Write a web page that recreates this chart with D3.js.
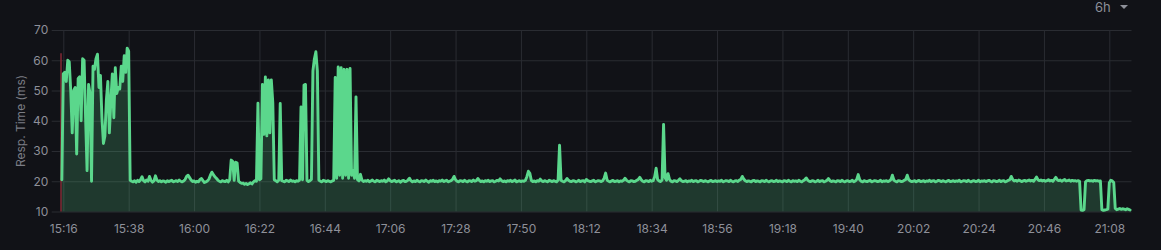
<!DOCTYPE html>
<html><head><meta charset="utf-8">
<script src="https://cdn.jsdelivr.net/npm/d3@7"></script>
<style>html,body{margin:0;padding:0;background:#111217;overflow:hidden}</style>
</head><body><svg id="c" width="1161" height="250"></svg>
<script>
// ---- data ----
const seriesStart = "15:15:30";
const sampleSeconds = 30;
const respTime = [
20.5,55.5,56,53,60,59.5,50,36,50,51,
29,54,54.5,40,60.5,60,41,23.5,52,49,
20,58,57,60.5,62,51,55,41,32.5,35,
47,53,36,46.5,55.5,41,57.5,49,51,50.5,
58,53,61.5,56,64,63,20.3,20.0,19.8,20.2,
19.7,20.3,19.9,20.5,21.5,20.2,19.8,20.4,20.0,21.6,
20.3,19.7,20.1,21.8,20.4,19.9,20.2,19.8,20.1,20.0,
19.7,20.2,19.9,20.1,20.3,19.8,20.0,20.2,19.9,20.4,
20.0,19.8,20.1,20.6,21.6,22.0,21.2,20.4,19.9,20.1,
19.7,20.0,19.8,20.6,20.9,20.2,19.6,19.8,20.1,20.7,
22.0,23.0,22.2,21.5,21.0,20.4,20.0,19.8,20.2,20.0,
19.9,20.3,19.8,20.5,27.0,26.6,20.3,26.3,26.0,20.0,
19.6,19.3,19.4,19.0,19.3,18.9,19.2,19.5,19.1,19.8,
20.2,20.0,45.8,20.5,20.8,52,35.5,54.5,35.0,53.5,
36,53.5,46,20.5,20.2,19.8,20.3,45.7,20.2,20.0,
19.8,20.3,20.1,19.9,20.4,20.0,20.1,19.8,20.2,20.0,
20.4,44.6,20.5,51.8,52,20.3,19.9,20.2,20.6,56.5,
60.5,62.8,56.5,20.4,20.0,19.8,20.3,20.1,19.9,20.2,
20.0,19.8,20.1,20.3,54.3,21,57.8,22,57.5,21,
57,22,57,21,57.3,22,23.6,21,47.9,20.5,
20.1,22.3,20.4,19.9,20.2,20.0,20.3,19.8,20.1,20.4,
20.0,19.8,20.3,20.1,19.9,20.2,20.0,20.4,19.8,20.1,
20.8,20.2,19.9,20.1,20.3,19.8,20.0,20.2,19.7,20.1,
20.3,19.9,20.0,20.4,21.0,20.2,19.8,20.1,19.9,20.3,
20.0,19.8,20.2,20.1,19.9,20.4,20.0,19.7,20.2,20.0,
20.3,19.9,20.1,19.8,20.2,20.0,20.4,19.9,20.1,20.3,
19.8,20.0,20.2,20.6,21.6,20.5,20.0,19.8,20.2,20.1,
19.9,20.3,20.0,19.8,20.2,20.1,19.9,20.4,20.0,20.2,
20.9,20.3,19.9,20.1,19.8,20.2,20.0,20.3,19.9,20.1,
20.2,19.8,20.0,20.3,20.1,20.8,20.2,19.9,20.1,19.8,
20.2,20.0,20.3,19.9,20.1,20.4,19.8,20.0,20.2,19.9,
20.1,20.0,20.3,21.5,23.3,22.6,20.3,19.9,20.1,19.8,
20.2,20.0,20.7,20.1,19.9,20.2,20.0,19.8,20.3,20.1,
19.9,20.2,20.0,19.8,20.4,31.9,20.3,20.0,19.8,20.2,
20.9,20.3,20.0,19.9,20.2,20.1,19.8,20.0,20.3,19.9,
20.1,20.2,19.8,20.6,20.2,20.0,19.9,20.1,20.3,19.8,
20.0,20.2,20.1,19.9,20.2,21.0,22.7,20.4,20.0,19.8,
20.1,20.3,19.9,20.0,20.2,19.8,20.1,20.0,20.3,21.0,
20.4,20.0,19.8,20.2,20.1,19.9,20.0,20.3,20.6,21.3,
20.5,20.0,19.8,20.2,20.1,19.9,20.3,20.0,20.2,21.5,
24.3,20.6,20.1,19.9,20.4,38.8,21.2,20.3,22.5,20.6,
20.0,19.8,20.2,20.1,19.9,20.3,20.8,20.2,19.9,20.0,
20.2,19.8,20.1,20.0,20.3,19.9,20.1,20.2,19.8,20.0,
20.3,20.1,19.9,20.2,20.0,19.8,20.1,20.3,19.9,20.0,
20.2,19.9,20.1,20.0,20.3,19.8,20.0,20.2,20.1,19.9,
20.3,20.0,19.8,20.1,20.2,19.9,20.4,20.6,21.6,20.7,
20.2,19.9,20.1,20.0,19.8,20.2,20.3,19.9,20.1,20.0,
19.8,20.2,20.1,19.9,20.3,20.0,19.8,20.1,20.2,19.9,
20.0,20.3,19.9,20.1,20.0,19.8,20.2,20.1,19.9,20.3,
20.0,19.8,20.2,20.0,20.1,19.9,20.3,20.0,19.8,20.2,
20.5,21.1,20.4,20.0,19.9,20.2,20.1,19.8,20.0,20.3,
19.9,20.1,20.2,19.8,20.0,20.3,20.9,20.2,19.9,20.1,
20.0,19.8,20.2,20.1,19.9,20.3,20.0,19.8,20.1,20.2,
19.9,20.0,20.3,19.8,20.1,20.6,22.2,20.5,20.0,19.8,
20.2,20.0,19.9,20.1,20.3,19.8,20.0,20.2,20.1,19.9,
20.0,20.3,19.8,20.1,20.0,20.2,19.9,20.1,20.5,22.0,
20.4,20.0,19.8,20.2,20.1,19.9,20.0,20.3,20.6,22.0,
20.5,20.1,19.9,20.0,20.2,19.8,20.1,20.3,19.9,20.0,
20.2,19.8,20.1,20.0,20.3,19.9,20.1,20.2,19.8,20.0,
20.3,20.1,19.9,20.2,20.0,19.8,20.1,20.3,19.9,20.0,
20.2,19.9,20.1,20.0,20.3,19.8,20.0,20.2,20.1,19.9,
20.3,20.0,19.8,20.1,20.2,19.9,20.0,20.3,19.8,20.1,
20.0,20.2,19.9,20.1,20.3,20.0,19.8,20.2,20.1,19.9,
20.0,20.3,19.9,20.1,20.2,19.8,20.0,20.3,20.5,21.6,
20.6,20.1,20.3,20.0,20.4,20.2,19.9,20.1,20.3,20.0,
20.2,20.4,20.1,20.3,20.0,20.6,21.4,20.5,20.2,20.4,
20.1,20.3,20.0,20.2,20.5,20.1,20.3,20.0,20.6,21.3,
20.5,20.2,20.4,20.0,20.3,20.6,20.1,20.2,20.4,20.0,
20.3,20.1,20.2,20.0,20.2,20.0,10.5,10.4,10.6,19.8,
20.2,20.3,20.1,20.2,20.0,20.3,20.1,20.2,20.0,20.1,
10.6,10.4,10.5,10.6,10.8,19.5,20.3,20.1,19.6,11.0,
10.6,10.8,11.0,10.7,10.9,10.8,10.6,10.9,10.7,10.5
];
const xTickLabels = ["15:16","15:38","16:00","16:22","16:44","17:06","17:28","17:50","18:12","18:34","18:56","19:18","19:40","20:02","20:24","20:46","21:08"];
const yTickValues = [10,20,30,40,50,60,70];
const annotationTimes = ["15:15:30"];
const yAxisTitle = "Resp. Time (ms)";
const rangeLabel = "6h";

// ---- drawing ----
const parse = s => { const p = s.split(":").map(Number); return new Date(2024,0,1,p[0],p[1],p[2]||0); };
const t0 = parse(seriesStart);
const data = respTime.map((v,i)=>({t:new Date(+t0 + i*sampleSeconds*1000), v}));

const svg = d3.select("#c");
const plotL = 51.7, plotR = 1131.5, plotT = 30, plotB = 211.5;
const x = d3.scaleTime().domain([parse(xTickLabels[0]), parse(xTickLabels[xTickLabels.length-1])]).range([63.3,1109.3]);
const y = d3.scaleLinear().domain([10,70]).range([plotB, plotT]);

const gridColor = "#2a2c32", textColor = "#8e9099", lineColor = "#5bd78c";
const font = "Inter, 'Noto Sans', sans-serif";

svg.append("rect").attr("width",1161).attr("height",250).attr("fill","#111217");

// y axis with gridlines
const yAxis = svg.append("g").attr("transform",`translate(${plotL},0)`)
  .call(d3.axisLeft(y).tickValues(yTickValues).tickSize(-(plotR-plotL)).tickPadding(3.4));
yAxis.select(".domain").remove();
yAxis.selectAll("line").attr("stroke",gridColor).attr("stroke-width",1);
yAxis.selectAll("text").attr("fill",textColor).attr("font-family",font).attr("font-size",12)
  .attr("dy",null).attr("y",3.8);

// x axis with gridlines
const xTicks = xTickLabels.map(parse);
const xAxis = svg.append("g").attr("transform",`translate(0,${plotB})`)
  .call(d3.axisBottom(x).tickValues(xTicks).tickFormat(d3.timeFormat("%H:%M")).tickSize(-(plotB-plotT)));
xAxis.select(".domain").remove();
xAxis.selectAll("line").attr("stroke",gridColor).attr("stroke-width",1);
xAxis.selectAll("text").attr("fill",textColor).attr("font-family",font).attr("font-size",12)
  .attr("dy",null).attr("y",21.5);

// annotation marker
svg.append("g").selectAll("line").data(annotationTimes.map(parse)).join("line")
  .attr("x1",d=>x(d)-0.8).attr("x2",d=>x(d)-0.8)
  .attr("y1",y(62.3)).attr("y2",plotB)
  .attr("stroke","#7d2833").attr("stroke-width",1.6);

// area + line
const area = d3.area().x(d=>x(d.t)).y0(y(10)).y1(d=>y(d.v));
const line = d3.line().x(d=>x(d.t)).y(d=>y(d.v));
svg.append("path").datum(data).attr("d",area).attr("fill",lineColor).attr("fill-opacity",0.2);
svg.append("path").datum(data).attr("d",line).attr("fill","none").attr("stroke",lineColor)
  .attr("stroke-width",2.9).attr("stroke-linejoin","round").attr("stroke-linecap","round");

// y axis title
svg.append("text").attr("transform","translate(25,121) rotate(-90)")
  .attr("text-anchor","middle").attr("fill","#7b7d85").attr("font-family",font).attr("font-size",12)
  .text(yAxisTitle);

// range selector
svg.append("text").attr("x",1095).attr("y",12).attr("fill",textColor).attr("font-family",font)
  .attr("font-size",13).text(rangeLabel);
svg.append("path").attr("d","M1120,5 L1128,5 L1124,9 Z").attr("fill",textColor);
</script>
</body></html>
